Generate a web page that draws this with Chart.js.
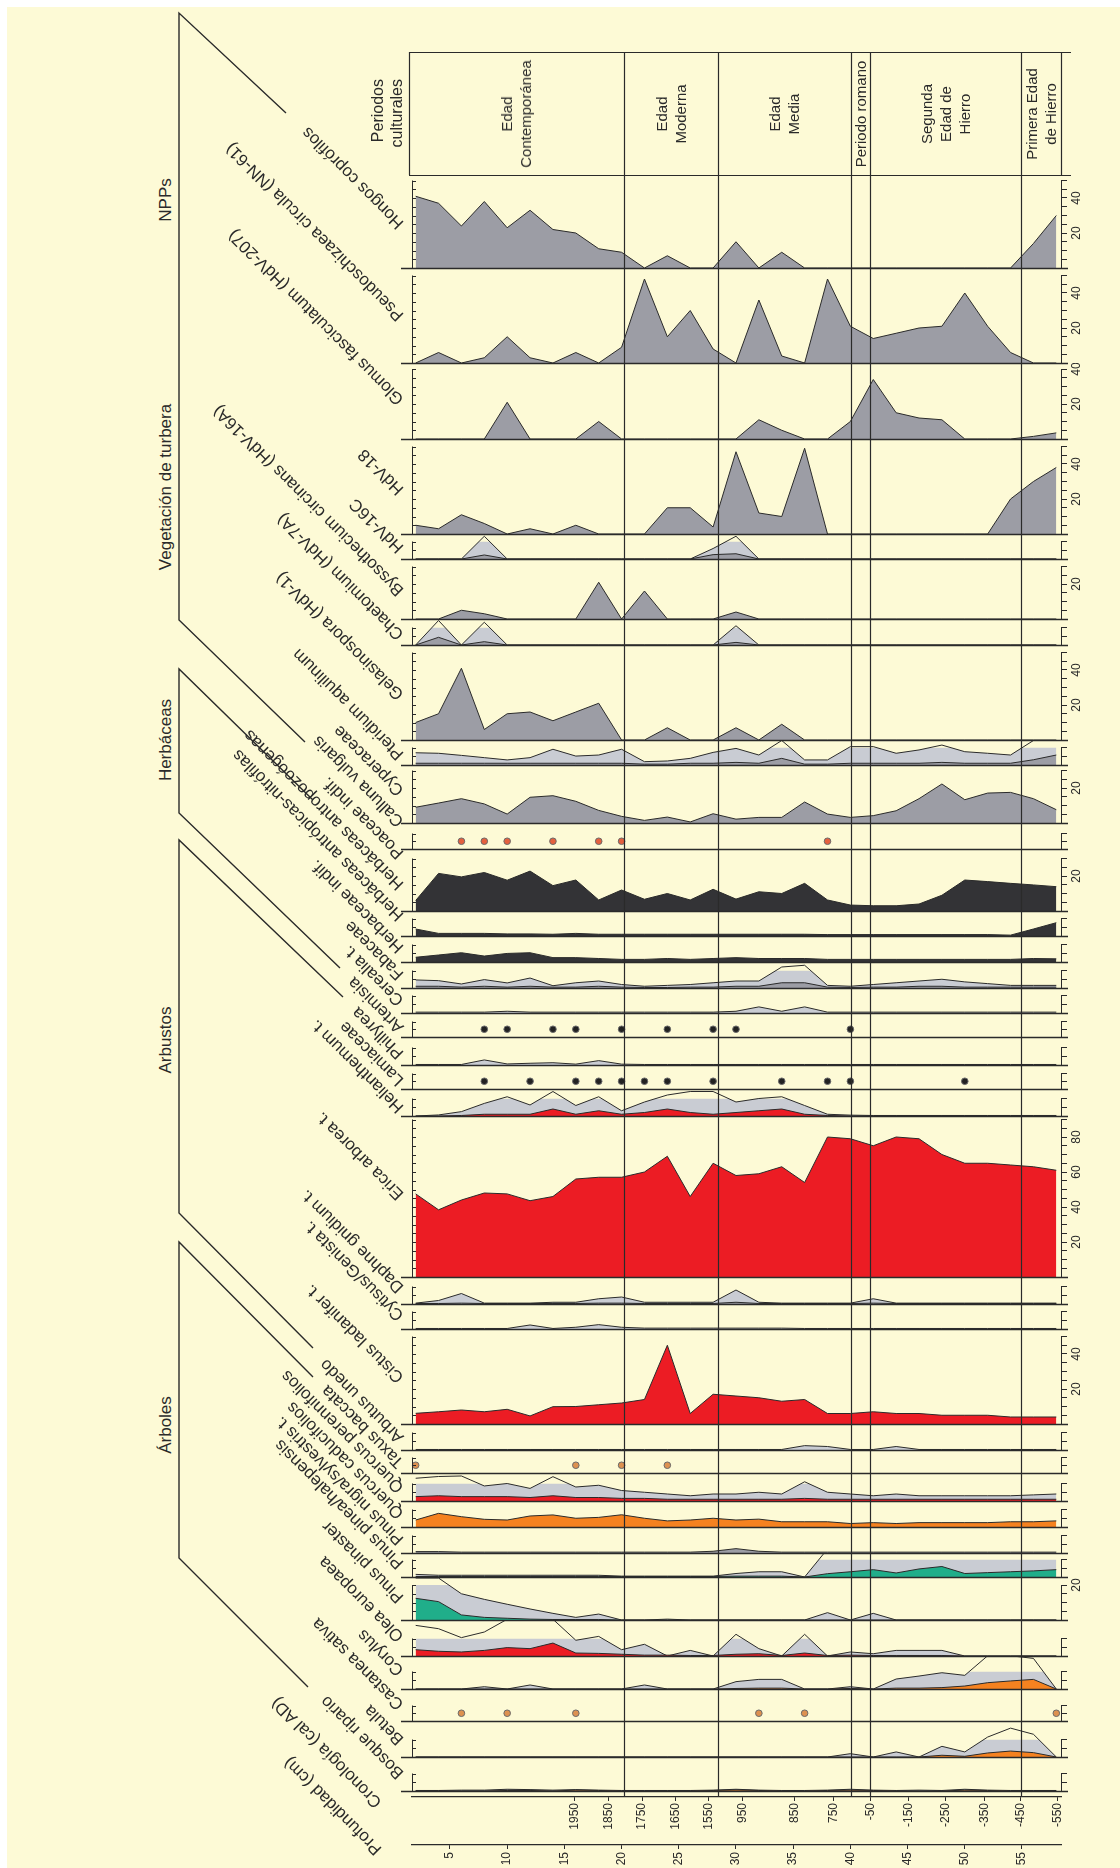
<!DOCTYPE html>
<html>
<head>
<meta charset="utf-8">
<script src="https://cdn.jsdelivr.net/npm/chart.js@4.4.1/dist/chart.umd.min.js"></script>
<style>
body { margin: 0; background: #fff; font-family: 'Liberation Sans', Arial, Helvetica, sans-serif; color: #2a2a2a; }
#page { position: relative; width: 1120px; height: 1868px; overflow: hidden; }
#paper { position: absolute; left: 7px; top: 7px; right: 0; bottom: 0; background: #fdfad6; }
canvas { position: absolute; }
svg { position: absolute; left: 0; top: 0; }
.lbl { position: absolute; white-space: nowrap; font-size: 17px; height: 18px; line-height: 18px; transform-origin: 0 50%; transform: rotate(-135deg); }
.rot { position: absolute; white-space: nowrap; transform: translate(-50%, -50%) rotate(-90deg); }
</style>
</head>
<body>
<div id="page"><div id="paper"></div></div>
<script>
// profundidad de las muestras (cm)
const depths = [2, 4, 6, 8, 10, 12, 14, 16, 18, 20, 22, 24, 26, 28, 30, 32, 34, 36, 38, 40, 42, 44, 46, 48, 50, 52, 54, 56, 58];

// eje de profundidad y cronología
const depthTicks = [5, 10, 15, 20, 25, 30, 35, 40, 45, 50, 55];
const chronoLabels = ['1950', '1850', '1750', '1650', '1550', '950', '850', '750', '-50', '-150', '-250', '-350', '-450', '-550'];
const chronoDepths = [15.9, 18.9, 21.8, 24.7, 27.6, 30.6, 35.1, 38.5, 41.8, 45.1, 48.3, 51.7, 54.9, 58.1];

// periodos culturales
const periodBounds = [20.2, 28.4, 40.05, 41.7, 54.9];
const periodNames = [['Edad', 'Contemporánea'], ['Edad', 'Moderna'], ['Edad', 'Media'], ['Periodo romano'], ['Segunda', 'Edad de', 'Hierro'], ['Primera Edad', 'de Hierro']];

// NPPs
const hongos = [41, 37, 24, 38, 23, 33, 22, 20, 11, 9, 0, 7, 0, 0, 15, 0, 9, 0, 0, 0, 0, 0, 0, 0, 0, 0, 0, 14, 30];
const pseudoschizaea = [0, 6, 0, 3, 15, 3, 0, 6, 0, 9, 48, 15, 30, 8, 0, 36, 4, 0, 48, 21, 14, 17, 20, 21, 40, 21, 6, 0, 0];
const glomus = [0, 0, 0, 0, 21, 0, 0, 0, 10, 0, 0, 0, 0, 0, 0, 11, 5, 0, 0, 10, 34, 15, 12, 11, 0, 0, 0, 1.5, 3.5];
// vegetación de turbera
const hdv18 = [5, 3, 11, 6, 0, 3, 0, 5, 0, 0, 0, 15, 15, 4, 47, 12, 10, 49, 0, 0, 0, 0, 0, 0, 0, 0, 20, 30, 38];
const hdv16c = [0, 0, 0, 2.3, 0, 0, 0, 0, 0, 0, 0, 0, 0, 2.5, 3, 0, 0, 0, 0, 0, 0, 0, 0, 0, 0, 0, 0, 0, 0];
const hdv16cX = [0, 0, 0, 13, 0, 0, 0, 0, 0, 0, 0, 0, 0, 6, 13, 0, 0, 0, 0, 0, 0, 0, 0, 0, 0, 0, 0, 0, 0];
const byssothecium = [0, 0, 5, 3, 0, 0, 0, 0, 21, 0, 16, 0, 0, 0, 4, 0, 0, 0, 0, 0, 0, 0, 0, 0, 0, 0, 0, 0, 0];
const chaetomium = [0, 4.4, 0, 1.9, 0, 0, 0, 0, 0, 0, 0, 0, 0, 0, 1.5, 0, 0, 0, 0, 0, 0, 0, 0, 0, 0, 0, 0, 0, 0];
const chaetomiumX = [0, 14, 0, 13, 0, 0, 0, 0, 0, 0, 0, 0, 0, 0, 11, 0, 0, 0, 0, 0, 0, 0, 0, 0, 0, 0, 0, 0, 0];
const gelasinospora = [10, 15, 41, 6, 15, 16, 11, 16, 21, 0, 0, 7, 0, 0, 7, 0, 9, 0, 0, 0, 0, 0, 0, 0, 0, 0, 0, 0, 0];
// herbáceas
const pteridium = [1, 1, 1, 1, 1, 1, 1, 1, 1, 1, 0.5, 0.5, 1, 1, 1.5, 1, 3.8, 0.5, 0.5, 1, 1, 1, 1, 1.5, 1, 1, 1, 3, 5.7];
const pteridiumX = [7, 6.7, 5.5, 4.2, 2.9, 4.2, 9, 5.1, 5.7, 9, 1.9, 2.3, 3.8, 7.2, 9.5, 5.7, 14, 2.9, 2.9, 10.5, 10.5, 6.7, 8.6, 11.4, 7.6, 6.7, 5.7, 14, 14];
const cyperaceae = [9, 11.4, 13.9, 10.9, 5.1, 14.7, 15.6, 12.4, 7.2, 3.8, 1.5, 3.4, 0.6, 5.3, 2.2, 3.2, 3.2, 12, 5.1, 3.2, 4.2, 7, 13.9, 22.3, 13.3, 17.1, 17.5, 13.9, 7.6];
const callunaDots = [6, 8, 10, 14, 18, 20, 38];
const antropozoogenas = [6, 21.5, 19.5, 22, 17.6, 22.8, 14.5, 17.7, 6.3, 12, 6.7, 10, 6.3, 12.4, 6.8, 11, 10, 15.8, 6.3, 3.4, 3, 3, 4, 9, 17.7, 16.8, 15.8, 14.9, 13.9];
const antropicas = [4, 1.5, 1.5, 1.5, 1.2, 1.2, 1, 1.5, 1, 1, 1, 1, 1, 1, 1, 1, 1, 1, 0.8, 0.8, 0.8, 0.8, 0.8, 0.8, 0.8, 0.8, 0.5, 4, 7.6];
const herbaceaeIndif = [2.7, 4, 5.3, 3.4, 4.9, 5.3, 2.5, 2.5, 2, 1.5, 1.5, 2, 1.5, 2, 2.5, 2, 2, 2, 1.5, 1.5, 1.5, 1.5, 1.5, 1.5, 1.5, 1.5, 1.5, 2, 1.8];
const fabaceae = [1, 1, 0.5, 1, 0.5, 1, 0.5, 0.5, 1, 0.5, 0.3, 0.3, 0.5, 0.5, 1, 1, 3, 3, 0.5, 0.3, 0.5, 0.5, 1, 1, 0.5, 0.5, 0.5, 0.5, 0.5];
const fabaceaeX = [4.6, 4.2, 2.3, 4.8, 2.9, 5.7, 1.3, 3, 4, 2, 1, 1.5, 2, 3, 4, 4, 12, 13, 1.5, 1, 2, 3, 4, 5, 3.5, 2.5, 1.5, 1.5, 1.5];
const cerealia = [0.5, 0.5, 0.5, 0.5, 1, 0.5, 0.5, 0.5, 0.5, 0.5, 0.5, 0.5, 0.5, 0.5, 1, 3.5, 1, 3.5, 0.5, 0.5, 0.5, 0.5, 0.5, 0.5, 0.5, 0.5, 0.5, 0.5, 0.5];
const artemisiaDots = [8, 10, 14, 16, 20, 24, 28, 30, 40];
const phillyrea = [0.3, 0.3, 0.3, 2.9, 0.6, 1, 1.3, 0.5, 2.5, 0.5, 0.3, 0.3, 0.3, 0.3, 0.3, 0.3, 0.3, 0.3, 0.3, 0.3, 0.3, 0.3, 0.3, 0.3, 0.3, 0.3, 0.3, 0.3, 0.3];
const lamiaceaeDots = [8, 12, 16, 18, 20, 22, 24, 28, 34, 38, 40, 50];
// arbustos
const helianthemum = [0, 0, 0.3, 1, 1, 1, 4, 1, 3, 1, 2, 4, 2, 1, 2, 3, 4, 1, 0.3, 0, 0, 0, 0, 0, 0, 0, 0, 0, 0];
const helianthemumX = [0, 0.6, 2.5, 7.2, 11, 6.3, 14, 6, 11, 3, 8, 12, 14, 14, 8, 10, 11, 6, 1, 0.5, 0.3, 0.3, 0.3, 0.3, 0.3, 0.3, 0.3, 0.3, 0.3];
const erica = [47.5, 38.4, 44, 48, 47.5, 43.6, 46, 56, 57, 57, 60, 69, 46, 65, 58, 59, 63, 54, 80, 79, 75, 80, 79, 70, 65, 65, 64, 63, 61];
const daphne = [0.3, 0.3, 0.5, 0.3, 0.3, 0.3, 0.3, 0.3, 0.5, 0.5, 0.3, 0.3, 0.3, 0.3, 1, 0.3, 0.3, 0.3, 0.3, 0.3, 0.5, 0.3, 0.3, 0.3, 0.3, 0.3, 0.3, 0.3, 0.3];
const daphneX = [0.5, 2, 6, 0.5, 0.5, 0.5, 1, 1, 3, 4, 1, 1, 1, 1, 8, 1, 0.5, 0.5, 0.5, 0.5, 3, 0.5, 0.5, 0.5, 0.5, 0.5, 0.5, 0.5, 0.5];
const cytisus = [0.3, 0.3, 0.3, 0.3, 0.3, 2.3, 0.3, 1, 2.5, 1, 0.5, 0.5, 0.5, 0.5, 0.5, 0.5, 0.5, 0.3, 0.3, 0.3, 0.3, 0.3, 0.3, 0.3, 0.3, 0.3, 0.3, 0.3, 0.3];
const cistus = [6.1, 7, 8, 7, 8.4, 4.6, 9.9, 10, 11, 12, 14, 45, 6, 17, 16, 15, 13, 14, 6, 6, 7, 6, 6, 5, 5, 5, 4, 4, 4];
// árboles
const arbutus = [0.3, 0.3, 0.3, 0.3, 0.3, 0.3, 0.3, 0.3, 0.3, 0.3, 0.3, 0.3, 0.3, 0.3, 0.3, 0.3, 0.3, 2.5, 2, 0.3, 0.3, 2, 0.3, 0.3, 0.3, 0.3, 0.3, 0.3, 0.3];
const taxusDots = [2, 16, 20, 24];
const quercusPer = [2.5, 3, 2.5, 2.5, 2.5, 2, 3, 2, 2, 1.5, 1.5, 1, 1, 1, 1, 1, 1, 1.5, 1, 1, 1, 1, 1, 1, 1, 1, 1, 1, 1];
const quercusPerX = [13, 14, 14.3, 8.6, 10, 7.2, 13.9, 8, 9, 6, 5, 4, 3, 4, 4, 5, 4, 11, 5, 4, 3, 4, 3, 3, 3, 3, 3, 3.5, 4];
const quercusCad = [4, 7.8, 5.9, 4.4, 4, 6.3, 6.9, 5, 5.5, 7, 5, 3.5, 4, 5, 4, 4.5, 3, 3, 3, 2, 2.5, 2, 2.5, 2.5, 2.5, 2.5, 3, 3, 3.5];
const pinusNigra = [0.8, 0.8, 0.5, 0.5, 0.5, 0.5, 0.5, 0.5, 0.5, 0.5, 0.5, 0.5, 0.5, 1, 2.5, 1, 0.5, 0.5, 0.5, 0.5, 0.5, 0.5, 0.5, 0.5, 0.5, 0.5, 0.5, 0.5, 0.5];
const pinusPinea = [0.3, 0.3, 0.3, 0.3, 0.3, 0.3, 0.3, 0.3, 0.3, 0.3, 0.3, 0.3, 0.3, 0.3, 0.5, 0.5, 0.5, 0, 1.9, 3, 4.2, 2.3, 4.6, 6, 2, 2.5, 3, 3.5, 4.2];
const pinusPineaX = [1.5, 1, 1, 1, 1, 1, 1, 1, 1, 0.5, 0.5, 0.5, 0.5, 0.5, 2, 3, 3, 0, 16, 16, 16, 16, 16, 16, 16, 16, 16, 16, 16];
const pinusPinaster = [12.4, 10.5, 2.9, 1.5, 1, 0.5, 0.3, 0.3, 0.3, 0, 0, 0, 0, 0, 0, 0, 0, 0, 0, 0, 0, 0, 0, 0, 0, 0, 0, 0, 0];
const pinusPinasterX = [24, 24, 15, 11.8, 9, 6.3, 3.8, 1.5, 3.4, 0, 0, 0.5, 0, 0, 0, 0, 0, 0, 4.2, 0, 3.8, 0, 0, 0, 0, 0, 0, 0, 0];
const olea = [3.6, 2.7, 2.3, 3.2, 4.8, 4.2, 7.4, 1.7, 1.5, 1, 0.5, 0.5, 0.3, 0.3, 1, 1.3, 0.3, 1.7, 0.3, 0.5, 0.3, 0.3, 0.3, 0.3, 0, 0, 0, 0, 0];
const oleaX = [17.5, 15.6, 10.5, 13.7, 21, 21, 21, 9, 11.2, 3.6, 6.7, 0, 3.2, 0, 12.4, 4.2, 0, 12.4, 0, 2.3, 1.3, 3.2, 3.2, 3.2, 0, 0, 0, 0, 0];
const corylus = [0, 0, 0, 0, 0, 0, 0, 0, 0, 0, 0, 0, 0, 0, 0.3, 0.5, 0.5, 0, 0, 0.3, 0, 0.5, 0.5, 0.8, 1.7, 3.6, 4.6, 5.5, 0];
const corylusX = [0, 0, 0, 1.3, 0, 2.3, 0, 0, 0, 0, 2.3, 0, 0, 0, 4.2, 5.5, 5.5, 0, 0, 1.3, 0, 5.7, 7.4, 9.3, 7.8, 19, 19, 17.5, 0];
const castaneaDots = [6, 10, 16, 32, 36, 58];
const betula = [0, 0, 0, 0, 0, 0, 0, 0, 0, 0, 0, 0, 0, 0, 0, 0, 0, 0, 0, 0, 0, 0, 0, 1, 0.4, 2.3, 3.4, 2.5, 0];
const betulaX = [0, 0, 0, 0, 0, 0, 0, 0, 0, 0, 0, 0, 0, 0, 0, 0, 0, 0, 0, 1.9, 0, 2.9, 0, 6.1, 2.9, 11.4, 16.5, 13, 0];
const ripario = [0, 0, 0, 0, 0.3, 0.3, 0, 0.5, 0.3, 0, 0, 0, 0, 0.3, 0.6, 0.3, 0, 0, 0.3, 0.5, 0.3, 0, 0, 0, 0.5, 0.3, 0, 0, 0];
const riparioX = [0.3, 0.3, 0.5, 0.5, 1, 0.8, 0.5, 0.8, 0.5, 0.3, 0.3, 0.3, 0.3, 0.5, 1, 0.5, 0.3, 0.3, 0.5, 1, 0.5, 0.3, 0.5, 0.3, 1, 0.5, 0.3, 0.3, 0.3];

const INK = '#2a2a2a', DG = '#9c9da5', LG = '#c9ccd3', BK = '#333336', RD = '#ec1c24', OR = '#f58220', TL = '#20ae8a';
const DOT_RED = '#e4603e', DOT_BLK = '#222', DOT_OR = '#dd9150';

// tiras del diagrama, de arriba abajo: línea base (px) y escala máxima (%)
const strips = [
  { base: 268, max: 50, labels: [20, 40], series: [[hongos, DG]] },
  { base: 363, max: 50, labels: [20, 40], series: [[pseudoschizaea, DG]] },
  { base: 439, max: 40, labels: [20, 40], series: [[glomus, DG]] },
  { base: 534, max: 50, labels: [20, 40], series: [[hdv18, DG]] },
  { base: 559, max: 10, series: [[hdv16c, DG], [hdv16cX, LG]] },
  { base: 619, max: 30, labels: [20], series: [[byssothecium, DG]] },
  { base: 645, max: 10, series: [[chaetomium, DG], [chaetomiumX, LG]] },
  { base: 740, max: 50, labels: [20, 40], series: [[gelasinospora, DG]] },
  { base: 765, max: 10, series: [[pteridium, DG], [pteridiumX, LG]] },
  { base: 823, max: 30, labels: [20], series: [[cyperaceae, DG]] },
  { base: 851, max: 10, dots: [callunaDots, DOT_RED] },
  { base: 911, max: 30, labels: [20], series: [[antropozoogenas, BK]] },
  { base: 936, max: 10, series: [[antropicas, BK]] },
  { base: 962, max: 10, series: [[herbaceaeIndif, BK]] },
  { base: 988, max: 10, series: [[fabaceae, DG], [fabaceaeX, LG]] },
  { base: 1013, max: 10, series: [[cerealia, LG]] },
  { base: 1039, max: 10, dots: [artemisiaDots, DOT_BLK] },
  { base: 1065, max: 10, series: [[phillyrea, LG]] },
  { base: 1091, max: 10, dots: [lamiaceaeDots, DOT_BLK] },
  { base: 1116, max: 10, series: [[helianthemum, RD], [helianthemumX, LG]] },
  { base: 1277, max: 90, labels: [20, 40, 60, 80], series: [[erica, RD]] },
  { base: 1304, max: 10, series: [[daphne, DG], [daphneX, LG]] },
  { base: 1329, max: 10, series: [[cytisus, LG]] },
  { base: 1424, max: 50, labels: [20, 40], series: [[cistus, RD]] },
  { base: 1450, max: 10, series: [[arbutus, LG]] },
  { base: 1475, max: 10, dots: [taxusDots, DOT_OR] },
  { base: 1501, max: 10, series: [[quercusPer, RD], [quercusPerX, LG]] },
  { base: 1527, max: 10, series: [[quercusCad, OR]] },
  { base: 1553, max: 10, series: [[pinusNigra, DG]] },
  { base: 1577, max: 10, series: [[pinusPinea, TL], [pinusPineaX, LG]] },
  { base: 1620, max: 20, labels: [20], series: [[pinusPinaster, TL], [pinusPinasterX, LG]] },
  { base: 1656, max: 10, series: [[olea, RD], [oleaX, LG]] },
  { base: 1689, max: 10, series: [[corylus, OR], [corylusX, LG]] },
  { base: 1723, max: 10, dots: [castaneaDots, DOT_OR] },
  { base: 1757, max: 10, series: [[betula, OR], [betulaX, LG]] },
  { base: 1791, max: 10, series: [[ripario, OR], [riparioX, DG]] }
];

const taxonLabels = [
  ['Hongos coprófilos', 226], ['Pseudoschizaea circula (NN-61)', 318], ['Glomus fasciculatum (HdV-207)', 402],
  ['HdV-18', 492], ['HdV-16C', 550], ['Byssothecium circinans (HdV-16A)', 593], ['Chaetomium (HdV-7A)', 637],
  ['Gelasinospora (HdV-1)', 697], ['Pteridium aquilinum', 757], ['Cyperaceae', 793], ['Calluna vulgaris', 824],
  ['Poaceae indif.', 856], ['Herbáceas antropozoógenas', 887], ['Herbáceas antrópicas-nitrófilas', 918],
  ['Herbaceae indif.', 950], ['Fabaceae', 977], ['Cerealia t.', 1003], ['Artemisia', 1030], ['Phillyrea', 1056],
  ['Lamiaceae', 1083], ['Helianthemum t.', 1110], ['Erica arborea t.', 1197], ['Daphne gnidium t.', 1290],
  ['Cytisus/Genista t.', 1318], ['Cistus ladanifer t.', 1380], ['Arbutus unedo', 1440], ['Taxus baccata', 1465],
  ['Quercus perennifolios', 1490], ['Quercus caducifolios', 1516], ['Pinus nigra/sylvestris t.', 1542],
  ['Pinus pinea/halepensis', 1566], ['Pinus pinaster', 1600], ['Olea europaea', 1639], ['Corylus', 1673],
  ['Castanea sativa', 1707], ['Betula', 1742], ['Bosque ripario', 1776]
];
const axisLabels = [['Cronología (cal AD)', 1805], ['Profundidad (cm)', 1852]];
const groups = [['NPPs', 200], ['Vegetación de turbera', 487], ['Herbáceas', 740], ['Arbustos', 1040], ['Árboles', 1425]];

Chart.defaults.font.family = "'Liberation Sans', Arial, Helvetica, sans-serif";
Chart.defaults.color = INK;

const page = document.getElementById('page');
const LEFT = 398, WIDTH = 722, PAD_L = 14, AXIS_W = 59, PX = 1.75, DOT_LEVEL = 5;
const XMIN = 1.68, XMAX = 58.41;
const HEAD_TOP = 52, HEAD_BOTTOM = 175;

const stripDecor = {
  id: 'stripDecor',
  afterDatasetsDraw(chart) {
    const { ctx, chartArea: a, scales: { y } } = chart;
    const y0 = Math.round(y.getPixelForValue(0)) + 0.5;
    ctx.save();
    ctx.strokeStyle = INK;
    ctx.lineWidth = 1.4;
    ctx.beginPath();
    ctx.moveTo(a.left - 11, y0);
    ctx.lineTo(a.right + 7, y0);
    ctx.stroke();
    ctx.lineWidth = 1;
    ctx.beginPath();
    ctx.moveTo(a.left + 0.5, y0);
    ctx.lineTo(a.left + 0.5, y.getPixelForValue(y.max));
    y.ticks.forEach(t => {
      const p = Math.round(y.getPixelForValue(t.value)) + 0.5;
      ctx.moveTo(a.left, p);
      ctx.lineTo(a.left + 4, p);
    });
    ctx.stroke();
    ctx.restore();
  }
};

function points(vals) {
  return vals.map((v, i) => ({ x: depths[i], y: v }));
}

let prev = HEAD_BOTTOM;
strips.forEach(s => {
  const h = s.base - prev;
  const cv = document.createElement('canvas');
  cv.width = WIDTH;
  cv.height = h + 3;
  cv.style.left = LEFT + 'px';
  cv.style.top = prev + 'px';
  page.appendChild(cv);
  const datasets = [];
  (s.series || []).forEach(([vals, color]) => {
    datasets.push({
      data: points(vals), backgroundColor: color, borderColor: INK, borderWidth: 1,
      fill: 'origin', pointRadius: 0, tension: 0, clip: false
    });
  });
  if (s.dots) {
    datasets.push({
      data: s.dots[0].map(d => ({ x: d, y: DOT_LEVEL })), showLine: false, pointRadius: 3.3,
      pointBackgroundColor: s.dots[1], pointBorderColor: '#6a6a6a', pointBorderWidth: 1, clip: false
    });
  }
  const steps = [];
  for (let v = 0; v <= s.max; v += 5) steps.push(v);
  new Chart(cv, {
    type: 'line',
    data: { datasets: datasets },
    options: {
      responsive: false, animation: false, devicePixelRatio: 1, events: [],
      layout: { padding: { top: h - s.max * PX, bottom: 3, left: PAD_L, right: 0 } },
      plugins: { legend: { display: false }, tooltip: { enabled: false } },
      scales: {
        x: { type: 'linear', min: XMIN, max: XMAX, display: false },
        y: {
          position: 'right', min: 0, max: s.max,
          afterBuildTicks: sc => { sc.ticks = steps.map(v => ({ value: v })); },
          afterFit: sc => { sc.width = AXIS_W; sc.paddingTop = 0; sc.paddingBottom = 0; },
          border: { display: true, color: INK, width: 1 },
          grid: { drawOnChartArea: false, tickLength: 6, color: INK },
          ticks: {
            autoSkip: false, minRotation: 90, maxRotation: 90, crossAlign: 'center', padding: 3,
            font: { size: 12 }, color: INK,
            callback: v => (s.labels || []).includes(v) ? String(v) : ''
          }
        }
      }
    },
    plugins: [stripDecor]
  });
  prev = s.base;
});

// marco: ejes inferiores, límites de periodos y cabecera
const frameDecor = {
  id: 'frameDecor',
  afterDraw(chart) {
    const { ctx, chartArea: a, scales: { depth } } = chart;
    ctx.save();
    ctx.strokeStyle = INK;
    ctx.lineWidth = 1.2;
    ctx.beginPath();
    periodBounds.forEach(d => {
      const x = Math.round(depth.getPixelForValue(d)) + 0.5;
      ctx.moveTo(x, HEAD_TOP);
      ctx.lineTo(x, a.bottom);
    });
    [HEAD_TOP, HEAD_BOTTOM].forEach(yy => {
      ctx.moveTo(a.left - 3, yy + 0.5);
      ctx.lineTo(a.right + 10, yy + 0.5);
    });
    ctx.moveTo(a.left - 2.5, HEAD_TOP);
    ctx.lineTo(a.left - 2.5, HEAD_BOTTOM);
    ctx.moveTo(a.right + 0.5, HEAD_TOP);
    ctx.lineTo(a.right + 0.5, HEAD_BOTTOM);
    ctx.stroke();
    ctx.restore();
  }
};

const fc = document.createElement('canvas');
fc.width = WIDTH;
fc.height = 1868;
fc.style.left = LEFT + 'px';
fc.style.top = '0px';
page.appendChild(fc);
const frame = new Chart(fc, {
  type: 'line',
  data: { datasets: [] },
  options: {
    responsive: false, animation: false, devicePixelRatio: 1, events: [],
    layout: { padding: { top: HEAD_TOP, left: PAD_L, right: AXIS_W, bottom: 0 } },
    plugins: { legend: { display: false }, tooltip: { enabled: false } },
    scales: {
      y: { display: false, min: 0, max: 1 },
      chrono: {
        axis: 'x', type: 'linear', position: 'bottom', weight: 0, min: XMIN, max: XMAX,
        afterBuildTicks: sc => { sc.ticks = chronoDepths.map(v => ({ value: v })); },
        afterFit: sc => { sc.height = 48; sc.paddingLeft = 0; sc.paddingRight = 0; },
        border: { color: INK, width: 1.2 },
        grid: { drawOnChartArea: false, tickLength: 4, color: INK },
        ticks: { autoSkip: false, minRotation: 90, maxRotation: 90, padding: 2, font: { size: 12 }, callback: (v, i) => chronoLabels[i] }
      },
      depth: {
        axis: 'x', type: 'linear', position: 'bottom', weight: 1, min: XMIN, max: XMAX,
        afterBuildTicks: sc => { sc.ticks = depthTicks.map(v => ({ value: v })); },
        afterFit: sc => { sc.height = 23; sc.paddingLeft = 0; sc.paddingRight = 0; },
        border: { color: INK, width: 1.2 },
        grid: { drawOnChartArea: false, tickLength: 4, color: INK },
        ticks: { autoSkip: false, minRotation: 90, maxRotation: 90, padding: 3, font: { size: 12 }, callback: v => String(v) }
      }
    }
  },
  plugins: [frameDecor]
});

// textos de la cabecera
const dx = frame.scales.depth;
const edges = [frame.chartArea.left - 3].concat(periodBounds.map(d => dx.getPixelForValue(d)), [frame.chartArea.right]);
periodNames.forEach((lines, i) => {
  const el = document.createElement('div');
  el.className = 'rot';
  el.style.font = "15px 'Liberation Sans', Arial, sans-serif";
  el.style.lineHeight = '19px';
  el.style.textAlign = 'center';
  el.style.left = (LEFT + (edges[i] + edges[i + 1]) / 2) + 'px';
  el.style.top = ((HEAD_TOP + HEAD_BOTTOM) / 2) + 'px';
  el.innerHTML = lines.join('<br>');
  page.appendChild(el);
});
const pc = document.createElement('div');
pc.className = 'rot';
pc.style.font = "16px 'Liberation Sans', Arial, sans-serif";
pc.style.lineHeight = '19px';
pc.style.textAlign = 'right';
pc.style.width = '86px';
pc.style.left = '387px';
pc.style.top = '122px';
pc.innerHTML = 'Periodos<br>culturales';
page.appendChild(pc);

// nombres de los taxones
function addLabel(text, x, y) {
  const el = document.createElement('div');
  el.className = 'lbl';
  el.textContent = text;
  el.style.left = x + 'px';
  el.style.top = (y - 9) + 'px';
  page.appendChild(el);
}
taxonLabels.forEach(([t, y]) => addLabel(t, 401, y));
axisLabels.forEach(([t, y]) => addLabel(t, 379, y));

// grupos
groups.forEach(([t, y]) => {
  const el = document.createElement('div');
  el.className = 'rot';
  el.style.font = "17px 'Liberation Sans', Arial, sans-serif";
  el.style.left = '166px';
  el.style.top = y + 'px';
  el.textContent = t;
  page.appendChild(el);
});
const brackets = [
  [[286, 113], [179, 13], [179, 620], [305, 742]],
  [[313, 800], [179, 669], [179, 813], [340, 968]],
  [[343, 997], [179, 840], [179, 1213], [313, 1348]],
  [[313, 1377], [179, 1242], [179, 1558], [308, 1687]]
];
const svgNS = 'http://www.w3.org/2000/svg';
const svg = document.createElementNS(svgNS, 'svg');
svg.setAttribute('width', '420');
svg.setAttribute('height', '1868');
brackets.forEach(b => {
  const pl = document.createElementNS(svgNS, 'polyline');
  pl.setAttribute('points', b.map(p => p.join(',')).join(' '));
  pl.setAttribute('fill', 'none');
  pl.setAttribute('stroke', INK);
  pl.setAttribute('stroke-width', '1.4');
  svg.appendChild(pl);
});
page.appendChild(svg);
</script>
</body>
</html>
